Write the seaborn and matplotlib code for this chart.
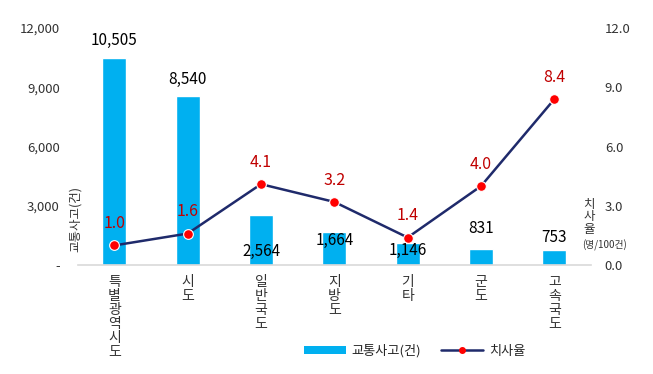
import matplotlib
matplotlib.use("Agg")
import matplotlib.pyplot as plt
import seaborn as sns
import pandas as pd
from matplotlib.lines import Line2D
from matplotlib.patches import Patch

categories = ["특별광역시도", "시도", "일반국도", "지방도", "기타", "군도", "고속국도"]
accidents = [10505, 8540, 2564, 1664, 1146, 831, 753]
fatality = [1.0, 1.6, 4.1, 3.2, 1.4, 4.0, 8.4]
left_ticks = [0, 3000, 6000, 9000, 12000]
left_tick_labels = ["-", "3,000", "6,000", "9,000", "12,000"]
right_ticks = [0, 3, 6, 9, 12]

sns.set_theme(style="white")
plt.rcParams['font.family'] = ['Noto Sans CJK KR', 'DejaVu Sans']

df = pd.DataFrame({"구분": categories, "교통사고": accidents, "치사율": fatality})

fig = plt.figure(figsize=(6.53, 3.74), dpi=100)
ax = fig.add_axes([0.119, 0.291, 0.786, 0.634])

sns.barplot(data=df, x="구분", y="교통사고", color="#00B0F0", width=0.33,
            saturation=1, ax=ax)
ax.set_ylim(0, 12000)
ax.set_xlim(-0.5, len(categories) - 0.5)
ax.set_yticks(left_ticks)
ax.set_yticklabels(left_tick_labels, fontsize=9.5, color="#333333")
ax.tick_params(axis="y", length=0, pad=13)
ax.set_xticks(range(len(categories)))
ax.set_xticklabels(["\n".join(c) for c in categories], fontsize=10,
                   linespacing=1.0, va="top", color="#333333")
ax.tick_params(axis="x", length=0, pad=7)
ax.set_xlabel("")
ax.set_ylabel("")
for s in ["top", "left", "right"]:
    ax.spines[s].set_visible(False)
ax.spines["bottom"].set_color("#D9D9D9")
ax.spines["bottom"].set_linewidth(1.2)

# left axis title, sitting between tick labels and bars
fig.text(0.115, 0.415, "교통사고(건)", rotation=90, ha="center", va="center",
         fontsize=9, color="#333333")

# bar value labels (placed roughly as in the reference)
bar_label_y = [11390, 9420, 710, 1270, 760, 1870, 1420]
for i, (v, y) in enumerate(zip(accidents, bar_label_y)):
    ax.text(i, y, f"{v:,}", ha="center", va="center", fontsize=11, color="black")

ax2 = ax.twinx()
ax2.set_position(ax.get_position())
sns.lineplot(data=df, x="구분", y="치사율", color="#1F2A6B", linewidth=1.8,
             marker="o", markersize=7, markerfacecolor="#FF0000",
             markeredgecolor="white", markeredgewidth=0.8, ax=ax2)
ax2.set_ylim(0, 12)
ax2.set_yticks(right_ticks)
ax2.set_yticklabels([f"{t:.1f}" for t in right_ticks], fontsize=9.5, color="#333333")
ax2.tick_params(axis="y", length=0, pad=10)
ax2.set_ylabel("")
for s in ["top", "left", "right", "bottom"]:
    ax2.spines[s].set_visible(False)

for i, v in enumerate(fatality):
    ax2.text(i, v + 1.1, f"{v:.1f}", ha="center", va="center", fontsize=11.5,
             color="#C00000", fontweight="medium")

# right axis title
fig.text(0.902, 0.42, "치\n사\n율", ha="center", va="center", fontsize=9,
         color="#333333", linespacing=0.95)
fig.text(0.925, 0.345, "(명/100건)", ha="center", va="center", fontsize=7,
         color="#333333")

handles = [Patch(facecolor="#00B0F0", edgecolor="none"),
           Line2D([0], [0], color="#1F2A6B", linewidth=1.8, marker="o",
                  markersize=4, markerfacecolor="#FF0000", markeredgecolor="#FF0000")]
fig.legend(handles, ["교통사고(건)", "치사율"], loc="center", bbox_to_anchor=(0.635, 0.062),
           ncol=2, frameon=False, fontsize=9.5, handlelength=3.2, handleheight=0.5,
           columnspacing=1.5, handletextpad=0.4)

plt.savefig("out.png", dpi=100)
